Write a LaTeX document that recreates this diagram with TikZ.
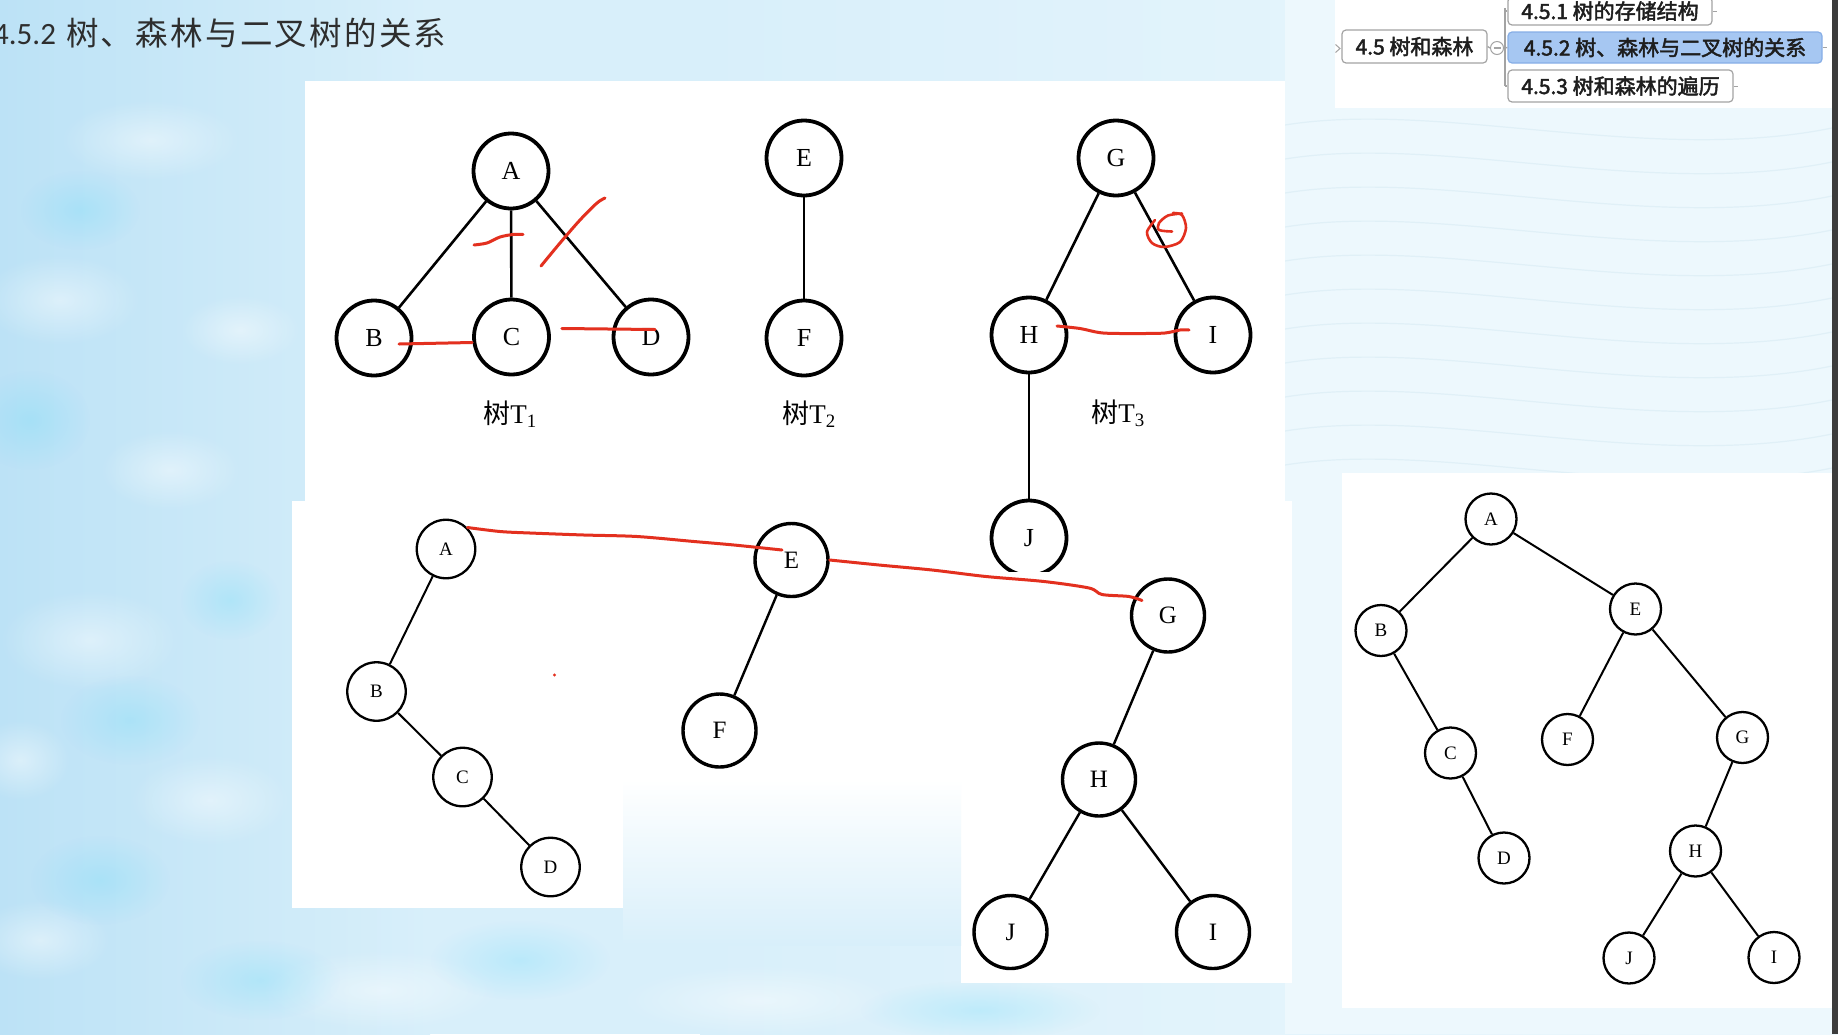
\documentclass[tikz,border=0pt]{standalone}
\usepackage{fontspec}
\setmainfont{Liberation Serif}
\newfontfamily\cjk{Noto Sans CJK SC}
\newfontfamily\titlecjk[LetterSpace=7]{Noto Sans CJK SC}
\newfontfamily\titlelat{Carlito}
\newfontfamily\menufont[FakeBold=2.2]{Noto Sans CJK SC}
\usetikzlibrary{fadings,calc}

\definecolor{bgblue}{HTML}{D8EFFA}
\definecolor{cloudblue}{HTML}{BCE2F6}
\definecolor{paleblue}{HTML}{EDF8FD}
\definecolor{waveline}{HTML}{E0F0F7}
\definecolor{inkred}{HTML}{E3301F}
\definecolor{titlegray}{HTML}{2E2E2E}
\definecolor{menugray}{HTML}{A3A3A3}
\definecolor{menutext}{HTML}{1E1E1E}
\definecolor{menublue}{HTML}{A6C7F2}
\definecolor{menublueedge}{HTML}{86AEE6}
\definecolor{darkstrip}{HTML}{3C3C3C}

\tikzfading[name=softblob, inner color=transparent!0, outer color=transparent!100]

\tikzset{
  tnode/.style={circle, draw=black, line width=3.8pt, minimum size=75pt, inner sep=0pt,
                font=\fontsize{26}{26}\selectfont},
  tedge/.style={line width=2.6pt},
  snode/.style={circle, draw=black, line width=2.3pt, minimum size=58.5pt, inner sep=0pt,
                font=\fontsize{19}{19}\selectfont},
  mnode/.style={circle, draw=black, line width=3.4pt, minimum size=73pt, inner sep=0pt,
                font=\fontsize{25}{25}\selectfont},
  bnode/.style={circle, draw=black, line width=2.3pt, minimum size=51pt, inner sep=0pt,
                font=\fontsize{19}{19}\selectfont},
  sedge/.style={line width=2pt},
  medge/.style={line width=2.4pt},
  caption/.style={inner sep=0pt, font=\fontsize{27}{27}\selectfont},
  redink/.style={draw=inkred, line width=3pt, line cap=round, line join=round},
  menubox/.style={draw=menugray, rounded corners=4pt, line width=1.2pt, fill=white,
                  inner sep=0pt, text=menutext, font=\menufont\fontsize{21}{21}\selectfont},
  menuline/.style={draw=menugray, line width=1.3pt},
  blob/.style={path fading=softblob},
}

\begin{document}
\begin{tikzpicture}[x=1pt,y=-1pt]
\clip (0,0) rectangle (1838,1034);

% ---------- slide background ----------
\fill[bgblue] (0,0) rectangle (1838,1034);
\shade[left color=cloudblue, right color=bgblue] (0,0) rectangle (430,1034);
\shade[left color=bgblue, right color=paleblue] (700,0) rectangle (1838,1034);
% soft clouds
\foreach \cx/\cy/\rx/\ry in {60/300/80/45, 170/470/70/40, 90/640/90/50, 210/800/80/45,
    40/940/70/40, 150/140/90/40, 240/330/60/35, 20/760/50/40, 380/990/120/40, 760/1000/140/35}
  \fill[white, opacity=0.45, blob] (\cx,\cy) ellipse (\rx pt and \ry pt);
\foreach \cx/\cy/\rx/\ry in {30/420/60/50, 130/720/70/45, 230/600/50/40, 100/880/70/45,
    260/980/80/40, 520/960/90/40, 980/1010/120/30, 80/210/60/40}
  \fill[cloudblue!85!blue!60!cyan, opacity=0.25, blob] (\cx,\cy) ellipse (\rx pt and \ry pt);

% ---------- pasted white panels ----------
\fill[paleblue] (1285,0) rectangle (1832,1034);
\foreach \k in {0,...,10}
  \draw[waveline, line width=1.2pt]
    (1285,{125+34*\k}) .. controls (1440,{100+34*\k}) and (1650,{165+34*\k}) .. (1832,{128+34*\k});
\fill[white] (305,81) rectangle (1285,502);
\fill[white] (292,501) rectangle (623,908);
\fill[white] (623,501) rectangle (1292,780);
\fill[white] (961,780) rectangle (1292,983);
\shade[top color=white, bottom color=bgblue] (623,779) rectangle (961,945);
\fill[white] (1342,473) rectangle (1832,1008);
\fill[white] (1335,0) rectangle (1832,108);
\fill[darkstrip] (1832,0) rectangle (1838,1034);

% ---------- heading ----------
\node[anchor=base west, inner sep=0pt, text=titlegray,
      font=\titlelat\fontsize{31}{31}\selectfont] (ttlnum) at (-7,44.5) {4.5.2};
\node[anchor=base west, inner sep=0pt, text=titlegray,
      font=\titlecjk\fontsize{32.5}{32.5}\selectfont] (ttlcjk) at (66,45) {树、森林与二叉树的关系};

% ---------- outline menu ----------
\node[menubox, minimum width=145pt, minimum height=33pt] (m45) at (1414.5,46.5) {4.5 树和森林};
\node[menubox, minimum width=204pt, minimum height=28pt] (m451) at (1610,11) {4.5.1 树的存储结构};
\node[menubox, fill=menublue, draw=menublueedge, minimum width=314pt, minimum height=31pt]
      (m452) at (1665,47.5) {4.5.2 树、森林与二叉树的关系};
\node[menubox, minimum width=225pt, minimum height=32pt] (m453) at (1620.5,86) {4.5.3 树和森林的遍历};
\node[circle, draw=menugray, fill=white, line width=1pt, minimum size=13pt, inner sep=0pt]
      (mcol) at (1497,48) {};
\draw[menugray, line width=1.2pt] ($(mcol.center)+(-3.5,0)$) -- ($(mcol.center)+(3.5,0)$);
\draw[menuline] (m45.east) -- (mcol.west);
\coordinate (mtop) at (1505,8);
\coordinate (mbot) at (1505,86);
\draw[menuline] (mtop) -- (mbot);
\draw[menuline] (1505,11) -- (m451.west);
\draw[menuline] (mcol.east) -- (m452.west);
\draw[menuline] (mbot) -- (m453.west);
\draw[menugray, line width=1pt] (1335.5,44.5) -- (1340,48.5) -- (1335.5,52.5);
\draw[menugray, line width=1pt] (m451.east) -- +(4,0);
\draw[menugray, line width=1pt] (m452.east) -- +(4,0);
\draw[menugray, line width=1pt] (m453.east) -- +(4,0);

% ---------- the three trees ----------
\node[tnode] (tA) at (511,171) {A};
\node[tnode] (tB) at (374,338) {B};
\node[tnode] (tC) at (511.5,337) {C};
\node[tnode] (tD) at (651,337) {D};
\draw[tedge] (tA) -- (tB);
\draw[tedge] (tA) -- (tC);
\draw[tedge] (tA) -- (tD);
\node[caption] (capA) at (510,414) {{\cjk 树}T\textsubscript{1}};

\node[tnode] (tE) at (804,158) {E};
\node[tnode] (tF) at (804,338) {F};
\draw[tedge] (tE) -- (tF);
\node[caption] (capB) at (809,414) {{\cjk 树}T\textsubscript{2}};

\node[tnode] (tG) at (1116,158) {G};
\node[tnode] (tH) at (1029,335) {H};
\node[tnode] (tI) at (1213,335) {I};
\node[tnode] (tJ) at (1029,538) {J};
\draw[tedge] (tG) -- (tH);
\draw[tedge] (tG) -- (tI);
\draw[tedge] (tH) -- (tJ);
\node[caption] (capC) at (1118,413) {{\cjk 树}T\textsubscript{3}};
% lower edge of the next picture trims the bottom of J
\fill[white] (995,571.5) rectangle (1065,583);

% ---------- each tree turned into a binary tree ----------
\node[snode] (lA) at (446,549) {A};
\node[snode] (lB) at (376.5,691.5) {B};
\node[snode] (lC) at (462.5,777) {C};
\node[snode] (lD) at (550.5,867) {D};
\draw[sedge] (lA) -- (lB);
\draw[sedge] (lB) -- (lC);
\draw[sedge] (lC) -- (lD);

\node[mnode] (lE) at (791.5,560) {E};
\node[mnode] (lF) at (719.5,730.5) {F};
\draw[medge] (lE) -- (lF);

\node[mnode] (lG) at (1168,615.5) {G};
\node[mnode] (lH) at (1099,779.5) {H};
\node[mnode] (lJ) at (1010.5,932) {J};
\node[mnode] (lI) at (1213,932) {I};
\draw[medge] (lG) -- (lH);
\draw[medge] (lH) -- (lJ);
\draw[medge] (lH) -- (lI);

% ---------- the whole forest as one binary tree ----------
\node[bnode] (rA) at (1491,519) {A};
\node[bnode] (rB) at (1381,630.5) {B};
\node[bnode] (rE) at (1635.5,609) {E};
\node[bnode] (rC) at (1450.5,753) {C};
\node[bnode] (rF) at (1567.5,739.5) {F};
\node[bnode] (rG) at (1742.5,737.5) {G};
\node[bnode] (rD) at (1504,858) {D};
\node[bnode] (rH) at (1695.5,851) {H};
\node[bnode] (rJ) at (1629,958) {J};
\node[bnode] (rI) at (1774,957.5) {I};
\draw[sedge] (rA) -- (rB);
\draw[sedge] (rA) -- (rE);
\draw[sedge] (rB) -- (rC);
\draw[sedge] (rC) -- (rD);
\draw[sedge] (rE) -- (rF);
\draw[sedge] (rE) -- (rG);
\draw[sedge] (rG) -- (rH);
\draw[sedge] (rH) -- (rJ);
\draw[sedge] (rH) -- (rI);

% ---------- red pen marks ----------
\draw[redink] plot[smooth] coordinates {(474,245) (487,243) (500,237) (513,234.5) (523,234.5)};
\draw[redink] plot[smooth] coordinates {(541,266) (560,243) (580,220) (597,203) (605,198)};
\draw[redink] ([xshift=25pt,yshift=-6pt]tB.center) -- ([yshift=-5.5pt]tC.west);
\draw[redink] ([xshift=11pt,yshift=8.5pt]tC.east) -- ([xshift=4pt,yshift=7.5pt]tD.center);
\draw[redink] plot[smooth] coordinates {(1057,326) (1080,328.5) (1103,333) (1140,333.5)
  (1165,333) (1180,330) (1189,330)};
\draw[redink, line width=2.6pt] plot[smooth] coordinates {(1182,213.5) (1168,215.5) (1159,223)
  (1159,230) (1172,231.5)};
\draw[redink, line width=2.6pt] plot[smooth] coordinates {(1155,220) (1147,232) (1152,243)
  (1164,247) (1180,242) (1186,228) (1182,215) (1173,213)};
\draw[redink] plot[smooth] coordinates {(lA.north east) (500,531.5) (530,533) (584,535)
  (637,536.5) (694,541.5) (734,545) (782,550)};
\draw[redink] plot[smooth] coordinates {(lE.east) (879,565) (932,570) (986,576.5)
  (1044,581.5) (1089,588) (1102,594.5) (1129,596.5) (1142,600.5)};
\fill[inkred] (554.5,675) circle (1.6pt);
\end{tikzpicture}
\end{document}
